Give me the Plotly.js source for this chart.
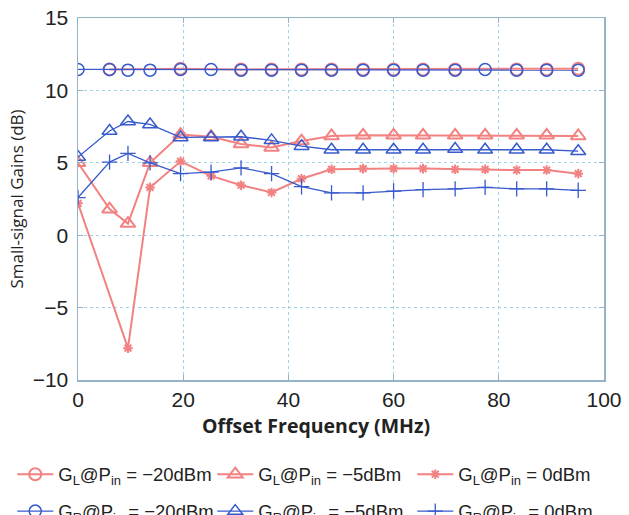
<!DOCTYPE html>
<html>
<head>
<meta charset="utf-8">
<script src="https://cdn.plot.ly/plotly-3.0.1.min.js"></script>
<style>html,body{margin:0;padding:0;background:#fff;}#chart{width:629px;height:515px;}</style>
</head>
<body>
<div id="chart"></div>
<script>
// Offset frequency (MHz) sample points
const freq = [0, 6, 9.5, 13.7, 19.5, 25.3, 31, 36.8, 42.5, 48.2, 54.2, 60, 65.6, 71.7, 77.4, 83.4, 89.1, 95.1];

// G_L @ Pin = -20 dBm (red circles)
const gL20x = [6, 19.5, 31, 36.8, 42.5, 48.2, 54.2, 60, 65.6, 71.7, 83.4, 89.1, 95.1];
const gL20y = [11.45, 11.5, 11.45, 11.45, 11.45, 11.45, 11.45, 11.45, 11.45, 11.45, 11.45, 11.45, 11.5];
// G_L @ Pin = -5 dBm (red triangles)
const gL5y = [5.0, 1.8, 0.8, 5.0, 6.95, 6.8, 6.3, 6.05, 6.5, 6.85, 6.9, 6.9, 6.9, 6.9, 6.9, 6.9, 6.9, 6.85];
// G_L @ Pin = 0 dBm (red stars)
const gL0x = [0, 9.5, 13.7, 19.5, 25.3, 31, 36.8, 42.5, 48.2, 54.2, 60, 65.6, 71.7, 77.4, 83.4, 89.1, 95.1];
const gL0y = [2.2, -7.8, 3.3, 5.1, 4.1, 3.45, 2.95, 3.9, 4.55, 4.6, 4.6, 4.6, 4.55, 4.55, 4.5, 4.5, 4.25];
// G_R @ Pin = -20 dBm (blue circles)
const gR20y = [11.45, 11.45, 11.4, 11.4, 11.45, 11.45, 11.4, 11.4, 11.4, 11.4, 11.4, 11.4, 11.4, 11.4, 11.45, 11.4, 11.4, 11.4];
// G_R @ Pin = -5 dBm (blue triangles)
const gR5y = [5.4, 7.2, 7.85, 7.65, 6.75, 6.75, 6.8, 6.55, 6.15, 5.9, 5.9, 5.9, 5.9, 5.95, 5.9, 5.9, 5.9, 5.8];
// G_R @ Pin = 0 dBm (blue crosses)
const gR0y = [2.6, 5.05, 5.65, 5.0, 4.25, 4.35, 4.65, 4.25, 3.35, 2.92, 2.92, 3.05, 3.15, 3.2, 3.3, 3.2, 3.2, 3.1];

const names = [
  'G<sub>L</sub>@P<sub>in</sub> = \u221220dBm',
  'G<sub>L</sub>@P<sub>in</sub> = \u22125dBm',
  'G<sub>L</sub>@P<sub>in</sub> = 0dBm',
  'G<sub>R</sub>@P<sub>in</sub> = \u221220dBm',
  'G<sub>R</sub>@P<sub>in</sub> = \u22125dBm',
  'G<sub>R</sub>@P<sub>in</sub> = 0dBm'
];
const xTitle = 'Offset Frequency (MHz)';
const yTitle = 'Small-signal Gains (dB)';

const red = 'rgb(242,130,130)';
const blue = 'rgb(55,90,205)';

const traces = [
  {x: gL20x, y: gL20y, name: names[0], mode: 'lines+markers', legend: 'legend',
   line: {color: red, width: 2}, marker: {symbol: 'circle-open', size: 12, color: red, line: {width: 2}}},
  {x: freq, y: gL5y, name: names[1], mode: 'lines+markers', legend: 'legend',
   line: {color: red, width: 2}, marker: {symbol: 'triangle-up-open', size: 13, color: red, line: {width: 2}}},
  {x: gL0x, y: gL0y, name: names[2], mode: 'lines+markers', legend: 'legend',
   line: {color: red, width: 2}, marker: {symbol: 'asterisk-open', size: 8, color: red, line: {width: 2, color: red}}},
  {x: freq, y: gR20y, name: names[3], mode: 'lines+markers', legend: 'legend2',
   line: {color: blue, width: 1.3}, marker: {symbol: 'circle-open', size: 12, color: blue, line: {width: 1.5}}},
  {x: freq, y: gR5y, name: names[4], mode: 'lines+markers', legend: 'legend2',
   line: {color: blue, width: 1.3}, marker: {symbol: 'triangle-up-open', size: 13, color: blue, line: {width: 1.5}}},
  {x: freq, y: gR0y, name: names[5], mode: 'lines+markers', legend: 'legend2',
   line: {color: blue, width: 1.3}, marker: {symbol: 'cross-thin-open', size: 11, color: blue, line: {width: 1.3, color: blue}}}
];

const axisCommon = {
  showline: true, mirror: 'ticks', linecolor: 'rgb(150,180,200)', linewidth: 1.5,
  ticks: 'inside', ticklen: 5, tickcolor: 'rgb(150,180,200)',
  showgrid: true, gridcolor: 'rgb(160,210,232)', griddash: 'dot', gridwidth: 1.3,
  zeroline: false,
  tickfont: {family: 'Liberation Sans, Arial, sans-serif', size: 21, color: '#222'}
};

const legendCommon = {
  orientation: 'h', x: -0.125, xanchor: 'left', yanchor: 'top',
  entrywidth: 149, entrywidthmode: 'pixels',
  font: {family: 'Liberation Sans, Arial, sans-serif', size: 18.5, color: '#222'},
  bgcolor: 'rgba(0,0,0,0)', itemwidth: 36
};

const layout = {
  width: 629, height: 515,
  margin: {l: 78, r: 25, t: 18, b: 135, autoexpand: false},
  paper_bgcolor: '#fff', plot_bgcolor: '#fff',
  showlegend: true,
  xaxis: Object.assign({}, axisCommon, {
    range: [0, 100], tickvals: [0, 20, 40, 60, 80, 100]
  }),
  yaxis: Object.assign({}, axisCommon, {
    range: [-10, 15], tickvals: [-10, -5, 0, 5, 10, 15],
    ticktext: ['\u221210', '\u22125', '0', '5', '10', '15'],
    ticklabelstandoff: 4,
    title: {text: yTitle, standoff: 4,
            font: {family: 'Open Sans, sans-serif', size: 17, color: '#222'}}
  }),
  annotations: [{
    text: xTitle, xref: 'paper', yref: 'paper', x: 0.452, y: -0.126,
    xanchor: 'center', yanchor: 'middle', showarrow: false,
    font: {family: 'Open Sans, sans-serif', size: 19.5, color: '#222', weight: 700}
  }],
  legend: Object.assign({}, legendCommon, {y: -0.209}),
  legend2: Object.assign({}, legendCommon, {y: -0.311})
};

Plotly.newPlot('chart', traces, layout, {displayModeBar: false, staticPlot: true});
</script>
</body>
</html>
